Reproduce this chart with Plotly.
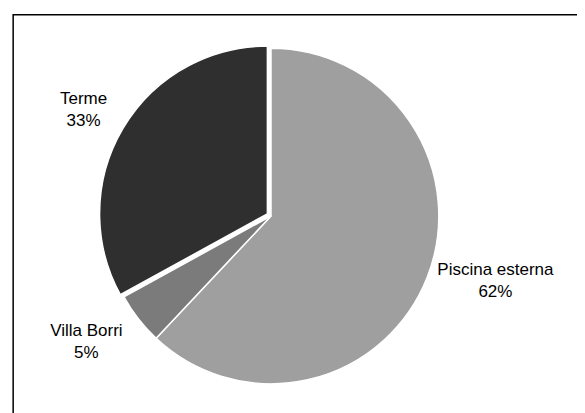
import plotly.graph_objects as go

labels = ["Piscina esterna", "Villa Borri", "Terme"]
values = [62, 5, 33]
colors = ["#9f9f9f", "#7b7b7b", "#2f2f2f"]
pulls = [0, 0, 0.025]
templates = [
    "%{label}<br>%{percent:.0%}",
    " <br>%{label}<br>%{percent:.0%}",
    "%{label}<br>%{percent:.0%}<br> ",
]

fig = go.Figure(go.Pie(
    labels=labels,
    values=values,
    sort=False,
    direction="clockwise",
    rotation=0,
    pull=pulls,
    marker=dict(colors=colors, line=dict(color="white", width=1.5)),
    texttemplate=templates,
    textposition="outside",
    textfont=dict(family="Liberation Sans, Arial, sans-serif", size=17, color="black"),
    showlegend=False,
    hoverinfo="skip",
))

fig.update_layout(
    width=585, height=413,
    margin=dict(l=43, r=102, t=36, b=33, autoexpand=False),
    paper_bgcolor="white",
    plot_bgcolor="white",
    shapes=[dict(type="rect", xref="paper", yref="paper",
                 x0=-0.086, x1=1.4, y0=-0.3, y1=1.085,
                 line=dict(color="black", width=1.5), fillcolor="rgba(0,0,0,0)")],
)

fig.write_html("out.html")
